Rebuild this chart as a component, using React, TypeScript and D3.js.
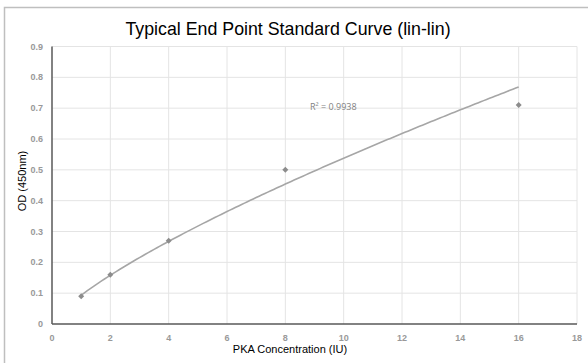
import * as d3 from "d3";
import React, { useEffect, useRef } from "react";

const concentration = [1, 2, 4, 8, 16];
const od = [0.09, 0.16, 0.27, 0.5, 0.71];
const xTicks = [0, 2, 4, 6, 8, 10, 12, 14, 16, 18];
const yTicks = [0, 0.1, 0.2, 0.3, 0.4, 0.5, 0.6, 0.7, 0.8, 0.9];
const rSquaredLabel = "R² = 0.9938";

const App: React.FC = () => {
  const ref = useRef<SVGSVGElement | null>(null);

  useEffect(() => {
    const width = 588;
    const height = 363;
    const left = 52;
    const right = 577;
    const top = 46.5;
    const bottom = 324;

    const svg = d3.select(ref.current);
    svg.selectAll("*").remove();

    svg.append("rect")
      .attr("x", 4.5).attr("y", 7.5)
      .attr("width", width + 10).attr("height", height + 10)
      .attr("fill", "#fff").attr("stroke", "#bfbfbf").attr("stroke-width", 1.5);

    const x = d3.scaleLinear().domain([0, 18]).range([left, right]);
    const y = d3.scaleLinear().domain([0, 0.9]).range([bottom, top]);

    // grid
    svg.append("g").selectAll("line").data(xTicks.slice(1)).join("line")
      .attr("x1", d => x(d)).attr("x2", d => x(d))
      .attr("y1", top).attr("y2", bottom)
      .attr("stroke", "#e4e4e4").attr("stroke-width", 1);
    svg.append("g").selectAll("line").data(yTicks.slice(1)).join("line")
      .attr("x1", left).attr("x2", right)
      .attr("y1", d => y(d)).attr("y2", d => y(d))
      .attr("stroke", "#e4e4e4").attr("stroke-width", 1);

    // axes
    svg.append("line").attr("x1", left).attr("x2", left).attr("y1", top).attr("y2", bottom)
      .attr("stroke", "#595959").attr("stroke-width", 1.5);
    svg.append("line").attr("x1", left).attr("x2", right).attr("y1", bottom).attr("y2", bottom)
      .attr("stroke", "#595959").attr("stroke-width", 1.5);

    const tickFont = "Arial, 'Liberation Sans', sans-serif";
    svg.append("g").selectAll("text").data(xTicks).join("text")
      .attr("x", d => x(d)).attr("y", bottom + 17)
      .attr("text-anchor", "middle")
      .attr("font-family", tickFont).attr("font-size", 9).attr("font-weight", "bold")
      .attr("fill", "#999")
      .text(d => String(d));
    svg.append("g").selectAll("text").data(yTicks).join("text")
      .attr("x", 43).attr("y", d => y(d) + 3)
      .attr("text-anchor", "end")
      .attr("font-family", tickFont).attr("font-size", 9).attr("font-weight", "bold")
      .attr("fill", "#999")
      .text(d => String(d));

    // power trendline fit from data
    const lx = concentration.map(Math.log);
    const ly = od.map(Math.log);
    const mx = d3.mean(lx)!;
    const my = d3.mean(ly)!;
    const b = d3.sum(lx, (v, i) => (v - mx) * (ly[i] - my)) / d3.sum(lx, v => (v - mx) ** 2);
    const a = Math.exp(my - b * mx);
    const xs = d3.range(concentration[0], concentration[concentration.length - 1] + 0.001, 0.1);
    const line = d3.line<number>().x(d => x(d)).y(d => y(a * Math.pow(d, b)));
    svg.append("path").attr("d", line(xs)!)
      .attr("fill", "none").attr("stroke", "#a6a6a6").attr("stroke-width", 1.6);

    // points
    svg.append("g").selectAll("path").data(concentration).join("path")
      .attr("transform", (d, i) => `translate(${x(d)},${y(od[i])}) rotate(45)`)
      .attr("d", d3.symbol(d3.symbolSquare, 18)())
      .attr("fill", "#8c8c8c");

    svg.append("text").attr("x", 310).attr("y", 110)
      .attr("font-family", "'Open Sans', 'DejaVu Sans', sans-serif").attr("font-size", 9)
      .attr("fill", "#7f7f7f")
      .text(rSquaredLabel);

    svg.append("text").attr("x", 288).attr("y", 35)
      .attr("text-anchor", "middle")
      .attr("font-family", tickFont).attr("font-size", 17.8)
      .attr("fill", "#000")
      .text("Typical End Point Standard Curve (lin-lin)");

    svg.append("text").attr("x", 290).attr("y", 353)
      .attr("text-anchor", "middle")
      .attr("font-family", tickFont).attr("font-size", 11)
      .attr("fill", "#000")
      .text("PKA Concentration (IU)");

    svg.append("text")
      .attr("transform", "translate(26,181) rotate(-90)")
      .attr("text-anchor", "middle")
      .attr("font-family", tickFont).attr("font-size", 11)
      .attr("fill", "#000")
      .text("OD (450nm)");
  }, []);

  return (
    <svg ref={ref} width={588} height={363}
      style={{ position: "absolute", left: 0, top: 0, display: "block", background: "#fff" }} />
  );
};

export default App;
